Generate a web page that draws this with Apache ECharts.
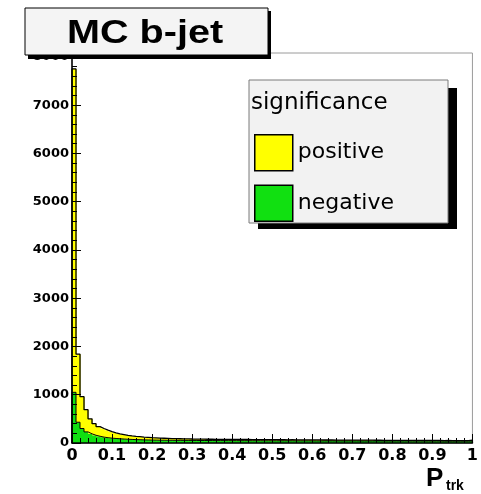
<!DOCTYPE html>
<html>
<head>
<meta charset="utf-8">
<script src="https://cdn.jsdelivr.net/npm/echarts@6/dist/echarts.min.js"></script>
<style>
  html, body { margin: 0; padding: 0; background: #ffffff; }
  #chart { width: 481px; height: 494px; }
</style>
</head>
<body>
<div id="chart"></div>
<script>
// Track probability P_trk for MC b-jets, 100 bins over [0, 1],
// stacked by impact-parameter significance sign.
const binWidth = 0.01;

const negativeCounts = [
  1050, 430, 300, 230, 190, 160, 140, 122, 110, 100,
  94, 88, 82, 78, 74, 70, 68, 65, 63, 61,
  60, 58, 58, 57, 56, 55, 55, 54, 54, 53,
  53, 52, 52, 51, 51, 50, 50, 50, 49, 49,
  49, 48, 48, 48, 47, 47, 47, 46, 46, 46,
  46, 45, 45, 45, 45, 44, 44, 44, 44, 44,
  43, 43, 43, 43, 43, 42, 42, 42, 42, 42,
  42, 41, 41, 41, 41, 41, 41, 40, 40, 40,
  40, 40, 40, 40, 39, 39, 39, 39, 39, 39,
  39, 39, 38, 38, 38, 38, 38, 38, 38, 40
];

const positiveCounts = [
  6700, 1410, 660, 460, 310, 240, 200, 178, 155, 135,
  116, 102, 93, 82, 74, 68, 62, 57, 53, 49,
  45, 42, 40, 38, 36, 34, 33, 32, 31, 30,
  29, 28, 28, 27, 27, 26, 26, 25, 26, 25,
  25, 24, 25, 24, 24, 23, 24, 23, 23, 22,
  23, 22, 22, 21, 22, 21, 21, 20, 21, 20,
  20, 20, 19, 20, 19, 19, 18, 19, 18, 18,
  18, 17, 18, 17, 17, 16, 17, 16, 16, 16,
  16, 15, 16, 15, 15, 15, 14, 15, 14, 14,
  14, 14, 13, 14, 13, 13, 13, 12, 13, 20
];

const xTickLabels = ['0', '0.1', '0.2', '0.3', '0.4', '0.5', '0.6', '0.7', '0.8', '0.9', '1'];
const yTickLabels = ['0', '1000', '2000', '3000', '4000', '5000', '6000', '7000', '8000'];

const seriesNames = ['positive', 'negative'];
const legendHeader = 'significance';
const plotTitle = 'MC b-jet';
const xTitleMain = 'P';
const xTitleSub = 'trk';

// Bin geometry and stacked totals
const binLow = negativeCounts.map((_, i) => i * binWidth);
const totalCounts = negativeCounts.map((v, i) => v + positiveCounts[i]);

const negativeBins = negativeCounts.map((v, i) => [binLow[i], binLow[i] + binWidth, 0, v]);
const positiveBins = positiveCounts.map((v, i) => [binLow[i], binLow[i] + binWidth, negativeCounts[i], totalCounts[i]]);

function outline(values) {
  const pts = [[0, 0]];
  values.forEach((v, i) => pts.push([binLow[i], v]));
  pts.push([binLow[values.length - 1] + binWidth, values[values.length - 1]]);
  pts.push([binLow[values.length - 1] + binWidth, 0]);
  return pts;
}

function renderBin(params, api) {
  const a = api.coord([api.value(0), api.value(3)]);
  const b = api.coord([api.value(1), api.value(2)]);
  return {
    type: 'rect',
    shape: { x: a[0], y: a[1], width: b[0] - a[0] + 0.6, height: b[1] - a[1] },
    style: { fill: api.visual('color') }
  };
}

const YELLOW = '#ffff00';
const GREEN = '#11e011';

const chart = echarts.init(document.getElementById('chart'), null, { renderer: 'canvas' });

chart.setOption({
  animation: false,
  backgroundColor: '#ffffff',
  grid: {
    left: 72, right: 8, top: 53, bottom: 51,
    containLabel: false,
    show: true,
    borderColor: '#9a9a9a',
    borderWidth: 1,
    backgroundColor: 'transparent'
  },
  xAxis: {
    type: 'value',
    z: 4,
    min: 0, max: 1, interval: 0.1,
    axisLine: { show: true, onZero: false, lineStyle: { color: '#000', width: 1.5 } },
    axisTick: { show: true, inside: true, length: 9, lineStyle: { color: '#000', width: 1 } },
    minorTick: { show: true, splitNumber: 5, length: 5, lineStyle: { color: '#000', width: 1 } },
    splitLine: { show: false },
    axisLabel: {
      margin: 5,
      color: '#000',
      fontFamily: 'DejaVu Sans',
      fontWeight: 'bold',
      fontSize: 16,
      formatter: (v, i) => xTickLabels[i] !== undefined ? xTickLabels[i] : ''
    }
  },
  yAxis: {
    type: 'value',
    z: 4,
    min: 0, max: 8080, interval: 1000,
    axisLine: { show: true, onZero: false, lineStyle: { color: '#000', width: 1.5 } },
    axisTick: { show: true, inside: true, length: 9, lineStyle: { color: '#000', width: 1 } },
    minorTick: { show: true, splitNumber: 5, length: 5, lineStyle: { color: '#000', width: 1 } },
    splitLine: { show: false },
    axisLabel: {
      margin: 3,
      color: '#000',
      fontFamily: 'DejaVu Sans',
      fontWeight: 'bold',
      fontSize: 13,
      showMaxLabel: false,
      formatter: (v) => {
        const k = Math.round(v / 1000);
        return (Math.abs(v - k * 1000) < 1 && yTickLabels[k] !== undefined) ? yTickLabels[k] : '';
      }
    }
  },
  legend: {
    show: true,
    orient: 'vertical',
    left: 249, top: 129,
    itemWidth: 38, itemHeight: 36, itemGap: 13,
    selectedMode: false,
    z: 10,
    textStyle: { color: '#000', fontFamily: 'DejaVu Sans', fontSize: 22, padding: [0, 0, 0, 0] },
    data: [
      { name: seriesNames[0], icon: 'rect', itemStyle: { color: YELLOW, borderColor: '#000', borderWidth: 1.5 } },
      { name: seriesNames[1], icon: 'rect', itemStyle: { color: GREEN, borderColor: '#000', borderWidth: 1.5 } }
    ]
  },
  series: [
    {
      name: seriesNames[1],
      type: 'custom',
      renderItem: renderBin,
      itemStyle: { color: GREEN },
      encode: { x: [0, 1], y: [2, 3] },
      data: negativeBins,
      z: 2
    },
    {
      name: seriesNames[0],
      type: 'custom',
      renderItem: renderBin,
      itemStyle: { color: YELLOW },
      encode: { x: [0, 1], y: [2, 3] },
      data: positiveBins,
      z: 2
    },
    {
      name: 'negative outline',
      type: 'line',
      step: 'end',
      symbol: 'none',
      data: outline(negativeCounts),
      lineStyle: { color: '#000', width: 1 },
      z: 3
    },
    {
      name: 'total outline',
      type: 'line',
      step: 'end',
      symbol: 'none',
      data: outline(totalCounts),
      lineStyle: { color: '#000', width: 1.3 },
      z: 3
    }
  ],
  graphic: [
    // legend frame with drop shadow
    { type: 'rect', z: 5, shape: { x: 258, y: 88, width: 199, height: 141 }, style: { fill: '#000' } },
    { type: 'rect', z: 6, shape: { x: 249, y: 80, width: 199, height: 143 }, style: { fill: '#f2f2f2', stroke: '#7a7a7a', lineWidth: 1 } },
    { type: 'text', z: 11, x: 251, y: 103,
      style: { text: legendHeader, fill: '#000', font: '23px "DejaVu Sans"', verticalAlign: 'middle' } },
    // title box with drop shadow
    { type: 'rect', z: 20, shape: { x: 28, y: 11, width: 243, height: 48 }, style: { fill: '#000' } },
    { type: 'rect', z: 21, shape: { x: 25, y: 8, width: 243, height: 47 }, style: { fill: '#f4f4f4', stroke: '#000', lineWidth: 1 } },
    { type: 'text', z: 22, x: 145, y: 34, scaleX: 1.2, originX: 0, originY: 0,
      style: { text: plotTitle, fill: '#000', font: 'bold 33px "Liberation Sans", Arial, sans-serif', align: 'center', verticalAlign: 'middle' } },
    // x-axis title P_trk
    { type: 'text', z: 10, x: 426, y: 492,
      style: { text: xTitleMain, fill: '#000', font: 'bold 26px "Liberation Sans", Arial, sans-serif', align: 'left', verticalAlign: 'bottom' } },
    { type: 'text', z: 10, x: 446, y: 493,
      style: { text: xTitleSub, fill: '#000', font: 'bold 14px "Liberation Sans", Arial, sans-serif', align: 'left', verticalAlign: 'bottom' } }
  ]
});
</script>
</body>
</html>
